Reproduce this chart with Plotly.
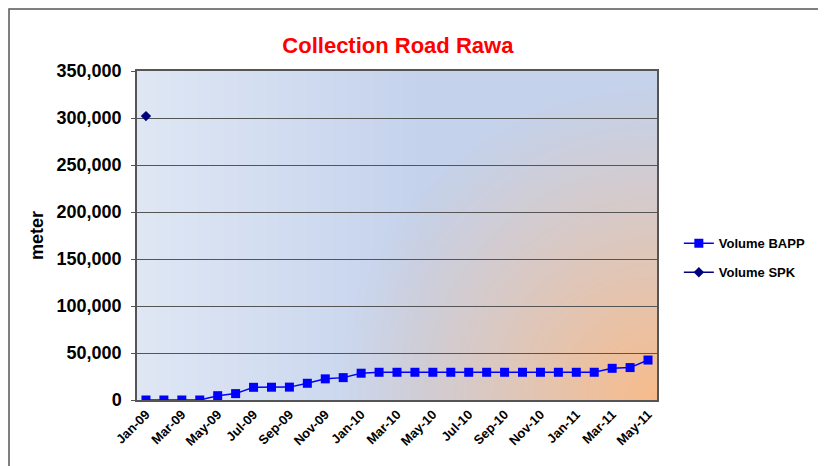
import base64
import struct
import zlib

import plotly.graph_objects as go

# ---------------- data ----------------
months = ["Jan-09", "Feb-09", "Mar-09", "Apr-09", "May-09", "Jun-09", "Jul-09", "Aug-09",
          "Sep-09", "Oct-09", "Nov-09", "Dec-09", "Jan-10", "Feb-10", "Mar-10", "Apr-10",
          "May-10", "Jun-10", "Jul-10", "Aug-10", "Sep-10", "Oct-10", "Nov-10", "Dec-10",
          "Jan-11", "Feb-11", "Mar-11", "Apr-11", "May-11"]
volume_bapp = [0, 0, 0, 0, 4600, 6800, 13500, 13600, 13700, 17800, 22500, 23800,
               28500, 29500, 29500, 29500, 29500, 29500, 29500, 29500, 29500, 29500,
               29500, 29500, 29500, 29500, 33700, 34500, 42500]
spk_months = ["Jan-09"]
volume_spk = [302000]
tick_months = months[::2]
y_ticks = [0, 50000, 100000, 150000, 200000, 250000, 300000, 350000]


# ---------------- background gradient (styling only) ----------------
def gradient_png(w, h, plot_w, plot_h):
    light = (223, 231, 244)
    blue = (196, 210, 236)
    orange = (248, 187, 138)
    R = 320.0
    rows = []
    for j in range(h):
        py = (j + 0.5) / h * plot_h
        row = bytearray([0])
        for i in range(w):
            px = (i + 0.5) / w * plot_w
            t = min(1.0, px / (plot_w * 0.55))
            base = [light[k] + (blue[k] - light[k]) * t for k in range(3)]
            dx = plot_w - px
            dy = plot_h - py
            r = (dx * dx + dy * dy) ** 0.5
            f = max(0.0, 1.0 - r / R) ** 1.1
            c = [int(round(base[k] + (orange[k] - base[k]) * f)) for k in range(3)]
            row.extend(c)
        rows.append(bytes(row))
    raw = b"".join(rows)

    def chunk(tag, data):
        return (struct.pack(">I", len(data)) + tag + data +
                struct.pack(">I", zlib.crc32(tag + data) & 0xFFFFFFFF))

    png = b"\x89PNG\r\n\x1a\n"
    png += chunk(b"IHDR", struct.pack(">IIBBBBB", w, h, 8, 2, 0, 0, 0))
    png += chunk(b"IDAT", zlib.compress(raw, 9))
    png += chunk(b"IEND", b"")
    return "data:image/png;base64," + base64.b64encode(png).decode()


bg = gradient_png(260, 165, 520, 329)

FONT = "Liberation Sans, Arial, sans-serif"

fig = go.Figure()
fig.add_trace(go.Scatter(
    x=months, y=volume_bapp, name="<b>Volume BAPP</b>", mode="lines+markers",
    legendgroup="bapp",
    line=dict(color="#0000ff", width=1.5),
    marker=dict(symbol="square", size=9, color="#0000ff"),
))
fig.add_trace(go.Scatter(
    x=spk_months, y=volume_spk, name="<b>Volume SPK</b>", mode="lines+markers",
    legendgroup="spk",
    line=dict(color="#000080", width=1.5),
    marker=dict(symbol="diamond", size=8, color="#000080"),
))

fig.update_layout(
    width=826, height=466,
    margin=dict(l=129, r=177, t=63, b=74),
    paper_bgcolor="white",
    plot_bgcolor="rgba(0,0,0,0)",
    font=dict(family=FONT, color="black"),
    title=dict(text="<b>Collection Road Rawa</b>", x=0.472, xanchor="center",
               y=0.921, yanchor="middle",
               font=dict(size=22, color="#ff0000", family=FONT)),
    showlegend=True,
    legend=dict(x=1.042, y=0.432, xanchor="left", yanchor="middle",
                font=dict(size=13, family=FONT),
                bgcolor="rgba(0,0,0,0)", tracegroupgap=9),
    images=[dict(source=bg, xref="paper", yref="paper", x=0, y=1, sizex=1, sizey=1,
                 xanchor="left", yanchor="top", sizing="stretch", layer="below")],
    shapes=[dict(type="rect", xref="paper", yref="paper",
                 x0=(1 - 129) / 520, x1=2.0, y0=-1.0, y1=(392 - 1) / 329,
                 line=dict(color="#555555", width=1.5), layer="below")],
)

fig.update_xaxes(
    type="category", categoryorder="array", categoryarray=months,
    tickmode="array", tickvals=tick_months, ticktext=["<b>%s</b>" % m for m in tick_months],
    tickangle=-45, tickfont=dict(size=13),
    showgrid=False, showline=True, linecolor="#555555", linewidth=1.5, mirror=True,
    ticks="", range=[-0.5, len(months) - 0.5],
)
fig.update_yaxes(
    range=[0, 350000], tickmode="array", tickvals=y_ticks,
    ticktext=["<b>{:,}</b>".format(v) for v in y_ticks],
    tickfont=dict(size=18),
    showgrid=True, gridcolor="#555555", gridwidth=1,
    showline=True, linecolor="#555555", linewidth=1.5, mirror=True,
    ticks="outside", ticklen=4, tickcolor="#555555", zeroline=False,
    ticklabelstandoff=6,
    title=dict(text="<b>meter</b>", font=dict(size=18), standoff=8),
)

fig.write_html("out.html")
